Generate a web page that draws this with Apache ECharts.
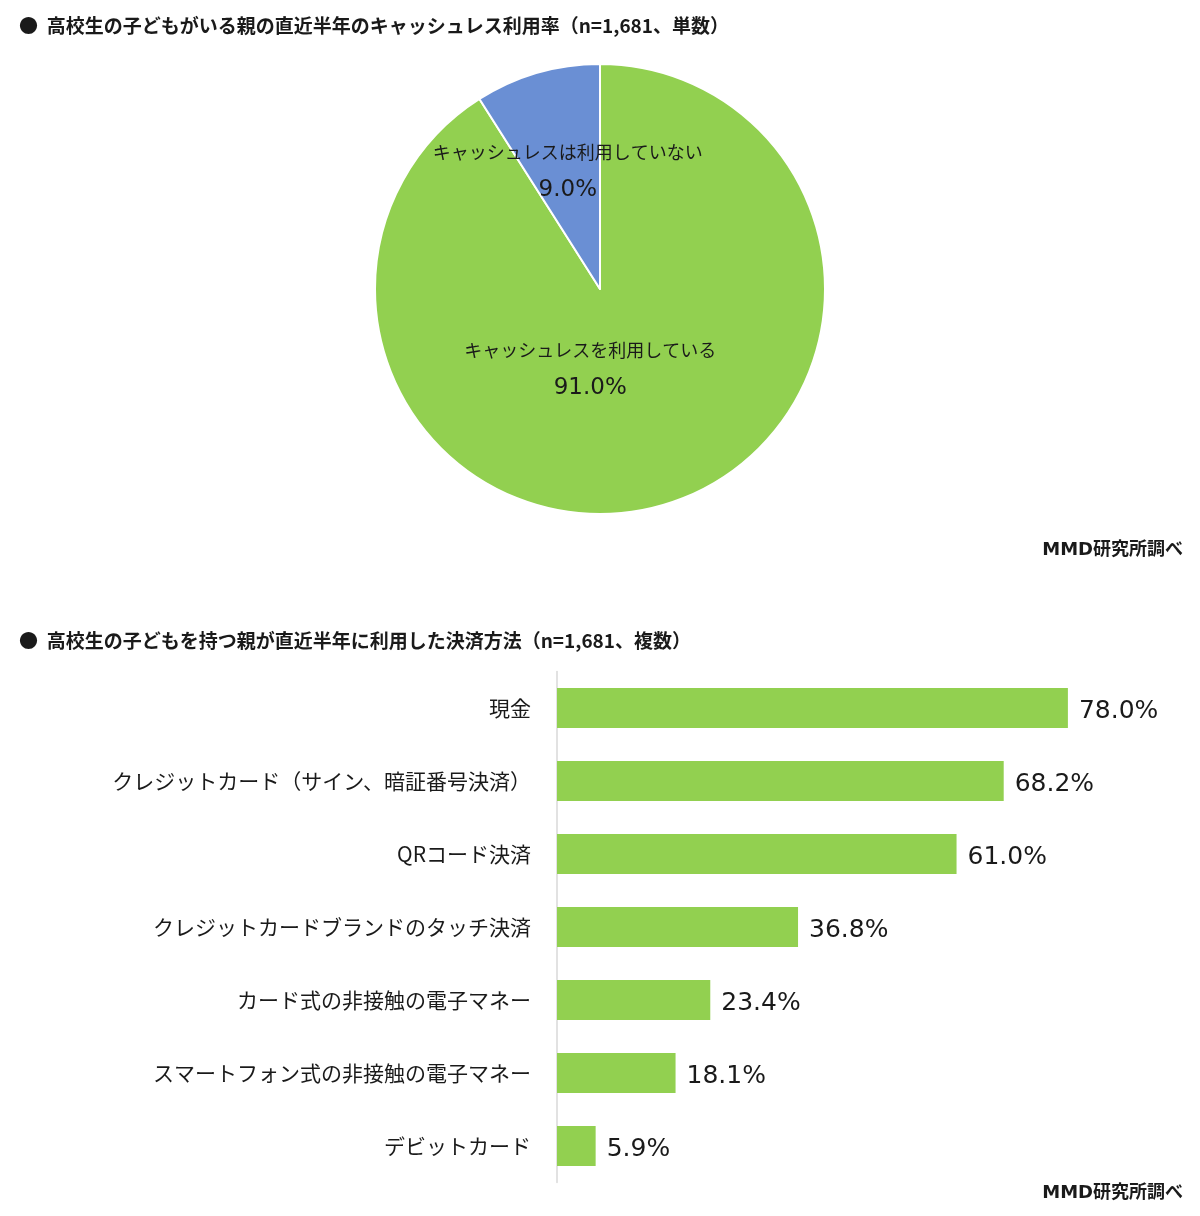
<!DOCTYPE html>
<html>
<head>
<meta charset="utf-8">
<script src="https://cdn.jsdelivr.net/npm/echarts@6/dist/echarts.min.js"></script>
<style>
html,body{margin:0;padding:0;background:#fff;}
#chart{width:1200px;height:1216px;}
</style>
</head>
<body>
<div id="chart"></div>
<script>
const pieTitle = '●  高校生の子どもがいる親の直近半年のキャッシュレス利用率（n=1,681、単数）';
const barTitle = '●  高校生の子どもを持つ親が直近半年に利用した決済方法（n=1,681、複数）';
const sourceText = 'MMD研究所調べ';
const pieNames = ['キャッシュレスを利用している', 'キャッシュレスは利用していない'];
const pieValues = [91.0, 9.0];
const barCategories = ['現金', 'クレジットカード（サイン、暗証番号決済）', 'QRコード決済', 'クレジットカードブランドのタッチ決済', 'カード式の非接触の電子マネー', 'スマートフォン式の非接触の電子マネー', 'デビットカード'];
const barValues = [78.0, 68.2, 61.0, 36.8, 23.4, 18.1, 5.9];

const FONT = '"Noto Sans CJK JP", "Noto Sans", sans-serif';
const NUMFONT = '"DejaVu Sans", "Noto Sans CJK JP", sans-serif';
const chart = echarts.init(document.getElementById('chart'));

const pieColors = ['#92d050', '#6a8fd4'];
const piePads = [[0, 84, 64, 0], [0, 0, 16, 0]];

chart.setOption({
  backgroundColor: '#ffffff',
  animation: false,
  textStyle: { fontFamily: FONT },
  title: [
    { text: pieTitle, left: 14, top: 11, textStyle: { fontSize: 19, fontWeight: 'bold', color: '#1a1a1a', fontFamily: FONT } },
    { text: barTitle, left: 14, top: 626, textStyle: { fontSize: 19, fontWeight: 'bold', color: '#1a1a1a', fontFamily: FONT } },
    { text: sourceText, right: 12, top: 536, textStyle: { fontSize: 18, fontWeight: 'bold', color: '#1a1a1a', fontFamily: NUMFONT } },
    { text: sourceText, right: 12, top: 1179, textStyle: { fontSize: 18, fontWeight: 'bold', color: '#1a1a1a', fontFamily: NUMFONT } }
  ],
  grid: { left: 557, width: 589.5, top: 671.5, height: 511 },
  xAxis: {
    type: 'value', min: 0, max: 90,
    show: false
  },
  yAxis: {
    type: 'category', inverse: true, data: barCategories,
    axisLine: { show: true, lineStyle: { color: '#d9d9d9', width: 1.5 } },
    axisTick: { show: false },
    axisLabel: { fontSize: 21, color: '#1a1a1a', margin: 26, fontFamily: FONT },
    splitLine: { show: false }
  },
  series: [
    {
      type: 'pie',
      center: [600, 289],
      radius: 225,
      startAngle: 90,
      clockwise: true,
      silent: true,
      itemStyle: { borderColor: '#ffffff', borderWidth: 2 },
      label: {
        position: 'inside',
        color: '#1a1a1a',
        fontFamily: FONT,
        formatter: p => '{n|' + p.name + '}\n{v|' + p.value.toFixed(1) + '%}',
        rich: {
          n: { fontSize: 18, color: '#1a1a1a', lineHeight: 36, fontFamily: FONT },
          v: { fontSize: 23, color: '#1a1a1a', lineHeight: 36, fontFamily: NUMFONT, padding: [4, 0, 0, 0] }
        }
      },
      labelLine: { show: false },
      data: pieNames.map((n, i) => ({
        name: n, value: pieValues[i],
        itemStyle: { color: pieColors[i] },
        label: { padding: piePads[i] }
      }))
    },
    {
      type: 'bar',
      data: barValues,
      barWidth: 40,
      itemStyle: { color: '#92d050' },
      label: {
        show: true, position: 'right', distance: 11,
        offset: [0, 3],
        fontSize: 25, color: '#1a1a1a', fontFamily: NUMFONT,
        formatter: p => p.value.toFixed(1) + '%'
      }
    }
  ]
});
</script>
</body>
</html>
